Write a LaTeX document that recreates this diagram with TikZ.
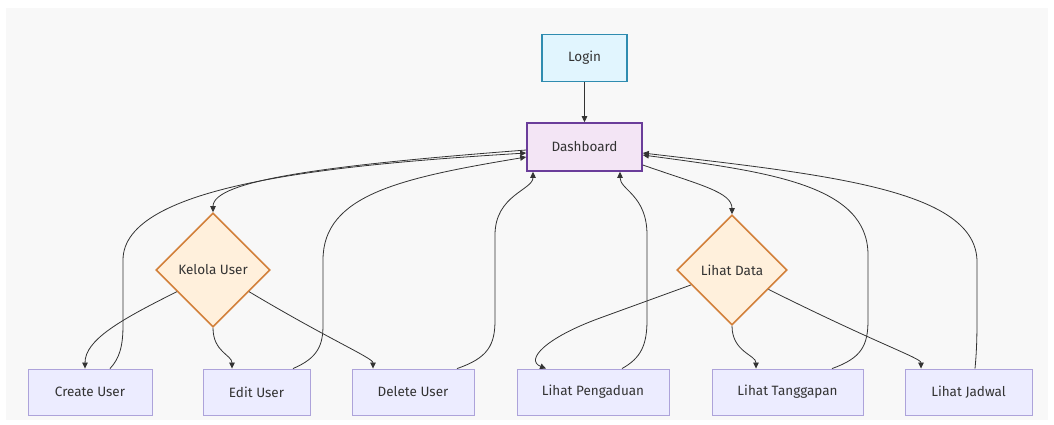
\documentclass[tikz,border=0pt]{standalone}
\usepackage{fontspec}
\setmainfont{Fira Sans}
\usetikzlibrary{shapes.geometric,arrows.meta}

\definecolor{canvas}{HTML}{F8F8F8}
\definecolor{ink}{HTML}{333333}
\definecolor{loginfill}{HTML}{E1F5FE}
\definecolor{loginline}{HTML}{2F8CB0}
\definecolor{dashfill}{HTML}{F3E5F5}
\definecolor{dashline}{HTML}{6A3D9A}
\definecolor{choicefill}{HTML}{FFF0DC}
\definecolor{choiceline}{HTML}{D2803A}
\definecolor{leaffill}{HTML}{ECECFF}
\definecolor{leafline}{HTML}{ADA3DA}

\tikzset{
  box/.style={rectangle, inner sep=0pt, text=ink},
  loginbox/.style={box, fill=loginfill, draw=loginline, line width=1.6pt},
  dashbox/.style={box, fill=dashfill, draw=dashline, line width=1.6pt},
  choice/.style={diamond, aspect=1, inner sep=0pt, text=ink,
    fill=choicefill, draw=choiceline, line width=1.6pt},
  leaf/.style={box, fill=leaffill, draw=leafline, line width=0.9pt,
    minimum height=46pt},
  edge/.style={draw=ink, line width=0.8pt,
    -{Triangle[length=6pt,width=5.5pt]}},
}

\begin{document}
\begin{tikzpicture}[x=1pt, y=-1pt, font=\fontsize{13.5}{16}\selectfont]
  \useasboundingbox (0,0) rectangle (1054,424);
  \fill[canvas] (6,8) rectangle (1048,420);

  % top of the flow
  \node[loginbox, minimum width=85pt, minimum height=47pt] (login) at (584.5,58) {Login};
  \node[dashbox, minimum width=115pt, minimum height=48pt] (dash) at (584.5,147) {Dashboard};

  % decision points
  \node[choice, minimum width=114pt, minimum height=114pt] (kelola) at (213,270) {Kelola User};
  \node[choice, minimum width=110pt, minimum height=110pt] (lihat) at (732,270) {Lihat Data};

  % leaf pages
  \node[leaf, minimum width=124pt] (create) at (90,392) {Create User};
  \node[leaf, minimum width=107pt] (edit) at (256.5,392) {Edit User};
  \node[leaf, minimum width=122pt] (delete) at (413,392) {Delete User};
  \node[leaf, minimum width=152pt] (aduan) at (593,392) {Lihat Pengaduan};
  \node[leaf, minimum width=151pt] (tanggap) at (787.5,392) {Lihat Tanggapan};
  \node[leaf, minimum width=127pt] (jadwal) at (968.5,392) {Lihat Jadwal};

  % login leads to dashboard
  \draw[edge] (login.south) -- (dash.north);

  % dashboard to the two menus
  \draw[edge] ([yshift=-3pt]dash.west) .. controls (330,165) and (213,180) .. (kelola.north);
  \draw[edge] ([yshift=-18pt]dash.east) .. controls (700,185) and (732,192) .. (lihat.north);

  % user management branches
  \draw[edge] (kelola.-149) .. controls (120,320) and (85,340) .. ([xshift=-5pt]create.north);
  \draw[edge] (kelola.south) .. controls (213,352) and (232,355) .. ([xshift=-24.5pt]edit.north);
  \draw[edge] (kelola.-31) .. controls (330,340) and (373,358) .. ([xshift=-40pt]delete.north);

  % data viewing branches
  \draw[edge] (lihat.-160) -- (600,318) .. controls (545,338) and (525,360) .. ([xshift=-47pt]aduan.north);
  \draw[edge] (lihat.south) .. controls (732,352) and (756,355) .. ([xshift=-31.5pt]tanggap.north);
  \draw[edge] (lihat.-28) .. controls (880,345) and (921,358) .. ([xshift=-47.5pt]jadwal.north);

  % every page returns to the dashboard
  \draw[edge] ([xshift=20pt]create.north) .. controls (120,358) and (123,345) .. (123,325)
    -- (123,260) .. controls (123,185) and (330,165) .. ([yshift=-6pt]dash.west);
  \draw[edge] ([xshift=36.5pt]edit.north) .. controls (318,358) and (323,345) .. (323,325)
    -- (323,260) .. controls (323,195) and (400,178) .. ([yshift=-10pt]dash.west);
  \draw[edge] ([xshift=44pt]delete.north) .. controls (488,358) and (495,345) .. (495,320)
    -- (495,235) .. controls (495,195) and (533,190) .. ([xshift=-51.5pt]dash.south);
  \draw[edge] ([xshift=29pt]aduan.north) .. controls (641,358) and (647,345) .. (647,320)
    -- (647,235) .. controls (647,195) and (620,190) .. ([xshift=35.5pt]dash.south);
  \draw[edge] ([xshift=44.5pt]tanggap.north) .. controls (862,358) and (868,345) .. (868,320)
    -- (868,255) .. controls (868,185) and (770,172) .. ([yshift=-8pt]dash.east);
  \draw[edge] ([xshift=6.5pt]jadwal.north) .. controls (976,358) and (977,345) .. (977,320)
    -- (977,262) .. controls (977,190) and (830,175) .. ([yshift=-6pt]dash.east);
\end{tikzpicture}
\end{document}
